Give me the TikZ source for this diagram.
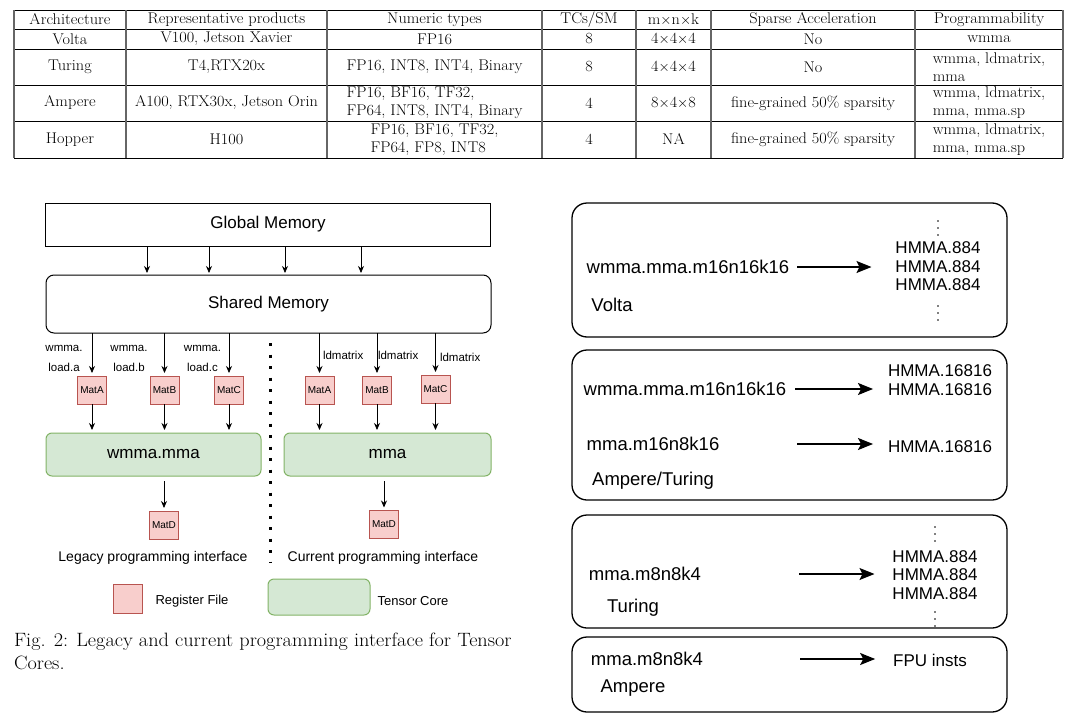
\documentclass[tikz,border=0pt]{standalone}
\usepackage{fontspec}
\newfontfamily\drawfont{Liberation Sans}
\newfontfamily\tabfont{Latin Modern Roman}[FakeStretch=1.05]
\usetikzlibrary{arrows.meta, positioning, calc}
\definecolor{regfill}{HTML}{F8CECC}
\definecolor{regdraw}{HTML}{B85450}
\definecolor{tcfill}{HTML}{D5E8D4}
\definecolor{tcdraw}{HTML}{82B366}
\newcommand{\setpx}[2]{\fontsize{#1}{#2}\selectfont}

\begin{document}
\begin{tikzpicture}[
    x=1pt, y=-1pt,
    every node/.style={inner sep=0pt, outer sep=0pt},
    tab/.style={font=\tabfont\setpx{15.5}{18}, align=left},
    hline/.style={line width=0.8pt},
    vline/.style={line width=1.2pt, black!60},
    mem/.style={draw, line width=1pt, minimum width=445pt, font=\drawfont\setpx{17}{20}},
    reg/.style={draw=regdraw, fill=regfill, line width=1pt, minimum width=29pt, minimum height=28pt, font=\drawfont\setpx{10}{12}},
    core/.style={draw=tcdraw, fill=tcfill, line width=1pt, rounded corners=6pt, minimum height=43pt, font=\drawfont\setpx{17}{20}},
    lbl/.style={font=\drawfont\setpx{11.5}{20}, align=center},
    note/.style={font=\drawfont\setpx{14}{16}},
    panel/.style={draw, line width=1.3pt, rounded corners=15pt, minimum width=435pt},
    code/.style={font=\drawfont\setpx{18.5}{20}},
    inst/.style={font=\drawfont\setpx{17}{19}},
    dotcol/.style={fill, circle, minimum size=1.8pt},
    arr/.style={-{Stealth[length=7pt,width=6pt]}, line width=0.8pt},
    big arr/.style={-{Stealth[length=15pt,width=12pt,inset=3pt]}, line width=1.3pt}
]
\useasboundingbox (0,0) rectangle (1074,720);

% table
\foreach \y in {10,29,49,85,121,158}
  \draw[hline] (14,\y) -- (1063,\y);
\foreach \x in {14,126,327,542,636,711,915,1063}
  \draw[vline] (\x,10) -- (\x,158);

\node[tab] (h1) at (70,19.5) {Architecture};
\node[tab] (h2) at (226.5,19.5) {Representative products};
\node[tab] (h3) at (434.5,19.5) {Numeric types};
\node[tab] (h4) at (589,19.5) {TCs/SM};
\node[tab] (h5) at (673.5,19.5) {m$\times$n$\times$k};
\node[tab] (h6) at (813,19.5) {Sparse Acceleration};
\node[tab] (h7) at (989,19.5) {Programmability};

\node[tab] (v1) at (70,39) {Volta};
\node[tab] (v2) at (226.5,39) {V100, Jetson Xavier};
\node[tab] (v3) at (434.5,39) {FP16};
\node[tab] (v4) at (589,39) {8};
\node[tab] (v5) at (673.5,39) {4$\times$4$\times$4};
\node[tab] (v6) at (813,39) {No};
\node[tab] (v7) at (989,39) {wmma};

\node[tab] (u1) at (70,67) {Turing};
\node[tab] (u2) at (226.5,67) {T4,RTX20x};
\node[tab] (u3) at (434.5,67) {FP16, INT8, INT4, Binary};
\node[tab] (u4) at (589,67) {8};
\node[tab] (u5) at (673.5,67) {4$\times$4$\times$4};
\node[tab] (u6) at (813,67) {No};
\node[tab] (u7) at (989,67) {wmma, ldmatrix,\\mma};

\node[tab] (a1) at (70,103) {Ampere};
\node[tab] (a2) at (226.5,103) {A100, RTX30x, Jetson Orin};
\node[tab] (a3) at (434.5,103) {FP16, BF16, TF32,\\FP64, INT8, INT4, Binary};
\node[tab] (a4) at (589,103) {4};
\node[tab] (a5) at (673.5,103) {8$\times$4$\times$8};
\node[tab] (a6) at (813,103) {fine-grained 50\% sparsity};
\node[tab] (a7) at (989,103) {wmma, ldmatrix,\\mma, mma.sp};

\node[tab] (o1) at (70,139.5) {Hopper};
\node[tab] (o2) at (226.5,139.5) {H100};
\node[tab] (o3) at (434.5,139.5) {FP16, BF16, TF32,\\FP64, FP8, INT8};
\node[tab] (o4) at (589,139.5) {4};
\node[tab] (o5) at (673.5,139.5) {NA};
\node[tab] (o6) at (813,139.5) {fine-grained 50\% sparsity};
\node[tab] (o7) at (989,139.5) {wmma, ldmatrix,\\mma, mma.sp};

% memory hierarchy
\node[mem, minimum height=43pt] (glob) at (268,224.5) {Global Memory};
\node[mem, minimum height=58pt, rounded corners=8pt] (shm) at (268.5,304) {Shared Memory};
\foreach \dx in {-121,-59,17,93}
  \draw[arr, shorten >=2pt] ([xshift=\dx pt]glob.south) -- ([xshift=\dx pt]glob.south |- shm.north);

% legacy side
\node[reg] (la) at (92,390) {MatA};
\node[reg] (lb) at (164.5,390) {MatB};
\node[reg] (lc) at (229,390) {MatC};
\node[lbl] (lla) at (64,358) {wmma.\\load.a};
\node[lbl] (llb) at (129,358) {wmma.\\load.b};
\node[lbl] (llc) at (202.5,358) {wmma.\\load.c};
\node[core, minimum width=215pt] (wm) at (153.5,454.5) {wmma.mma};
\node[reg] (ld) at (164,525) {MatD};
\foreach \m in {la,lb,lc}{
  \draw[arr, shorten >=3pt] (shm.south -| \m.north) -- (\m.north);
  \draw[arr, shorten >=3pt] (\m.south) -- (\m.south |- wm.north);
}
\draw[arr, shorten <=5pt, shorten >=3pt] (wm.south -| ld.north) -- (ld.north);
\node[note] (leg) at (153,558) {Legacy programming interface};

% current side
\node[reg] (ra) at (319.5,390) {MatA};
\node[reg] (rb) at (377,390) {MatB};
\node[reg] (rc) at (435.5,389) {MatC};
\node[lbl, anchor=west] (rla) at (323,355) {ldmatrix};
\node[lbl, anchor=west] (rlb) at (378,355) {ldmatrix};
\node[lbl, anchor=west] (rlc) at (440,357) {ldmatrix};
\node[core, minimum width=207pt] (mm) at (387.5,454.5) {mma};
\node[reg] (rd) at (384,524.5) {MatD};
\foreach \m in {ra,rb,rc}{
  \draw[arr, shorten >=3pt] (shm.south -| \m.north) -- (\m.north);
  \draw[arr, shorten >=3pt] (\m.south) -- (\m.south |- mm.north);
}
\draw[arr, shorten <=5pt, shorten >=3pt] (mm.south -| rd.north) -- (rd.north);
\node[note] (cur) at (383,558) {Current programming interface};

\draw[line width=3pt, dash pattern=on 3pt off 8.5pt] (270,343) -- (270,562);

% legend
\node[reg, minimum width=29pt, minimum height=29pt] (kreg) at (127.5,598.5) {};
\node[note, font=\drawfont\setpx{13}{15}] (kregt) at (192,601) {Register File};
\node[core, minimum width=102pt, minimum height=36pt] (ktc) at (319,597) {};
\node[note, font=\drawfont\setpx{13}{15}] (ktct) at (413,601) {Tensor Core};

% caption
\node[anchor=north west, align=left, font=\tabfont\setpx{19.3}{23}] (cap) at (14,633)
  {Fig. 2: Legacy and current programming interface for Tensor\\Cores.};

% volta
\node[panel, minimum height=134pt] (pvolta) at (789.5,270) {};
\node[code] (vmma) at (688,267) {wmma.mma.m16n16k16};
\node[inst] (vh1) at (938,248) {HMMA.884};
\node[inst] (vh2) at (938,267) {HMMA.884};
\node[inst] (vh3) at (938,285) {HMMA.884};
\foreach \y in {221,228,235,306,313,320}
  \node[dotcol] at (938,\y) {};
\node[code] (vlab) at (612,305) {Volta};
\draw[big arr, shorten <=8pt, shorten >=24pt] (vmma.east) -- (vmma.east -| vh2.west);

% ampere/turing
\node[panel, minimum height=150pt] (pamp) at (789.5,425) {};
\node[code] (am1) at (685,389) {wmma.mma.m16n16k16};
\node[inst] (ah1) at (940,371) {HMMA.16816};
\node[inst] (ah2) at (940,390) {HMMA.16816};
\node[code] (am2) at (653,444) {mma.m16n8k16};
\node[inst] (ah3) at (940,447) {HMMA.16816};
\node[code] (alab) at (653,481) {Ampere/Turing};
\draw[big arr, shorten <=9pt, shorten >=15pt] (am1.east) -- (am1.east -| ah2.west);
\draw[big arr, shorten <=78pt, shorten >=15pt] (am2.east) -- (am2.east -| ah3.west);

% turing
\node[panel, minimum height=113pt] (ptur) at (789.5,571.5) {};
\node[code] (tm) at (645,574) {mma.m8n8k4};
\node[inst] (th1) at (935,557) {HMMA.884};
\node[inst] (th2) at (935,575) {HMMA.884};
\node[inst] (th3) at (935,594) {HMMA.884};
\foreach \y in {527,534,541,612,619,626}
  \node[dotcol] at (935,\y) {};
\node[code] (tlab) at (633,608) {Turing};
\draw[big arr, shorten <=98pt, shorten >=18pt] (tm.east) -- (tm.east -| th2.west);

% ampere
\node[panel, minimum height=75pt] (pamp2) at (789.5,674.5) {};
\node[code] (pm) at (647,659) {mma.m8n8k4};
\node[inst] (pf) at (930,660) {FPU insts};
\node[code] (plab) at (633,688) {Ampere};
\draw[big arr, shorten <=97pt, shorten >=18pt] (pm.east) -- (pm.east -| pf.west);
\end{tikzpicture}
\end{document}
